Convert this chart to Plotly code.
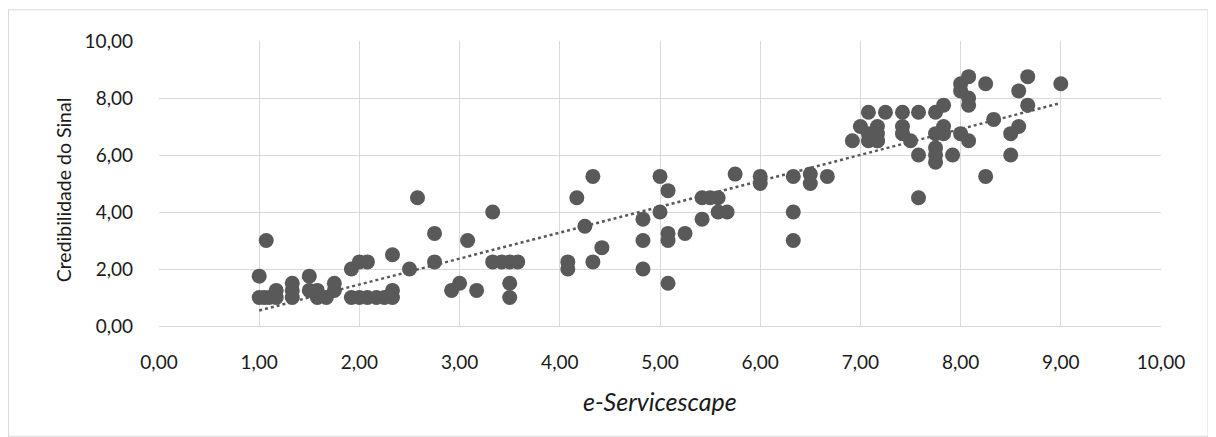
import numpy as np
import plotly.graph_objects as go

# e-Servicescape (x) and Credibilidade do Sinal (y)
x_vals = [1.00, 1.00, 1.07, 1.05, 1.10, 1.17, 1.17, 1.33, 1.33, 1.33,
          1.50, 1.50, 1.58, 1.58, 1.67, 1.75, 1.75, 1.92, 1.92, 2.00,
          2.00, 2.08, 2.08, 2.17, 2.25, 2.33, 2.33, 2.33, 2.50, 2.58,
          2.75, 2.75, 2.92, 3.00, 3.08, 3.17, 3.33, 3.33, 3.42, 3.50,
          3.50, 3.50, 3.58, 4.08, 4.08, 4.17, 4.25, 4.33, 4.33, 4.42,
          4.83, 4.83, 4.83, 5.00, 5.00, 5.08, 5.08, 5.08, 5.08, 5.25,
          5.42, 5.42, 5.50, 5.58, 5.58, 5.67, 5.75, 6.00, 6.00, 6.33,
          6.33, 6.33, 6.50, 6.50, 6.67, 6.92, 7.00, 7.08, 7.08, 7.17,
          7.17, 7.17, 7.25, 7.42, 7.42, 7.42, 7.50, 7.58, 7.58, 7.58,
          7.75, 7.75, 7.75, 7.75, 7.75, 7.83, 7.83, 7.83, 7.92, 8.00,
          8.00, 8.00, 8.08, 8.08, 8.08, 8.08, 8.25, 8.25, 8.33, 8.50,
          8.50, 8.58, 8.58, 8.67, 8.67, 9.00, 7.08, 7.17]
y_vals = [1.75, 1.00, 3.00, 1.00, 1.00, 1.25, 1.00, 1.00, 1.25, 1.50,
          1.75, 1.25, 1.00, 1.25, 1.00, 1.25, 1.50, 1.00, 2.00, 2.25,
          1.00, 1.00, 2.25, 1.00, 1.00, 1.00, 1.25, 2.50, 2.00, 4.50,
          3.25, 2.25, 1.25, 1.50, 3.00, 1.25, 4.00, 2.25, 2.25, 2.25,
          1.50, 1.00, 2.25, 2.25, 2.00, 4.50, 3.50, 5.25, 2.25, 2.75,
          3.75, 3.00, 2.00, 5.25, 4.00, 4.75, 3.25, 3.00, 1.50, 3.25,
          4.50, 3.75, 4.50, 4.50, 4.00, 4.00, 5.33, 5.25, 5.00, 5.25,
          4.00, 3.00, 5.33, 5.00, 5.25, 6.50, 7.00, 6.50, 7.50, 7.00,
          6.75, 6.50, 7.50, 7.50, 7.00, 6.75, 6.50, 7.50, 6.00, 4.50,
          7.50, 6.75, 6.25, 6.00, 5.75, 7.75, 7.00, 6.75, 6.00, 8.50,
          8.25, 6.75, 8.75, 8.00, 7.75, 6.50, 8.50, 5.25, 7.25, 6.75,
          6.00, 8.25, 7.00, 8.75, 7.75, 8.50, 6.75, 6.50]

tick_vals = [0, 1, 2, 3, 4, 5, 6, 7, 8, 9, 10]
y_tick_vals = [0, 2, 4, 6, 8, 10]
x_title = "e-Servicescape"
y_title = "Credibilidade do Sinal"

xa = np.array(x_vals)
ya = np.array(y_vals)
slope, intercept = np.polyfit(xa, ya, 1)
tx = np.array([xa.min(), xa.max()])
ty = slope * tx + intercept

OFF = 8  # page body margin
W, H = 1216 - OFF, 437 - OFF
# target plot area in screen px
PX0, PX1, PY0, PY1 = 159, 1161, 40.7, 325.7
L = PX0 - OFF
R = W - (PX1 - OFF)
T = PY0 - OFF
B = H - (PY1 - OFF)
PW = PX1 - PX0
PH = PY1 - PY0


def px(sx):
    return (sx - PX0) / PW


def py(sy):
    return (PY1 - sy) / PH


fig = go.Figure()
fig.add_trace(go.Scatter(x=x_vals, y=y_vals, mode="markers",
                         marker=dict(size=15, color="#595959"),
                         showlegend=False, hoverinfo="x+y"))
fig.add_trace(go.Scatter(x=tx, y=ty, mode="lines",
                         line=dict(color="#595959", width=2.5, dash="dot"),
                         showlegend=False, hoverinfo="skip"))

font_family = "Lato, 'Open Sans', sans-serif"
tick_font = dict(size=19, family=font_family, color="#1a1a1a")
fig.update_layout(
    width=W, height=H,
    margin=dict(l=L, r=R, t=T, b=B, pad=0, autoexpand=False),
    paper_bgcolor="white", plot_bgcolor="white",
    separators=",.",
    font=dict(family=font_family, size=19, color="#1a1a1a"),
    xaxis=dict(range=[0, 10], tickvals=tick_vals, tickformat=".2f",
               showgrid=True, gridcolor="#d9d9d9", gridwidth=1.3,
               zeroline=False, showline=True, linecolor="#d9d9d9", linewidth=1.3,
               ticks="", ticklabelstandoff=19, tickfont=tick_font),
    yaxis=dict(range=[0, 10], tickvals=y_tick_vals, tickformat=".2f",
               showgrid=True, gridcolor="#d9d9d9", gridwidth=1.3,
               zeroline=False, showline=False,
               ticks="", ticklabelstandoff=25, tickfont=tick_font),
    annotations=[
        dict(text="<i>" + x_title + "</i>", xref="paper", yref="paper",
             x=px(659.5), y=py(401), xanchor="center", yanchor="middle",
             showarrow=False,
             font=dict(size=25, family=font_family, color="#1a1a1a")),
        dict(text=y_title, xref="paper", yref="paper",
             x=px(63), y=py(190), xanchor="center", yanchor="middle",
             showarrow=False, textangle=-90,
             font=dict(size=19.5, family=font_family, color="#1a1a1a")),
    ],
    shapes=[
        dict(type="rect", xref="paper", yref="paper",
             x0=px(8.5), x1=px(1208), y0=py(436), y1=py(9.5),
             line=dict(color="#d9d9d9", width=1), layer="below"),
    ],
)

fig.write_html("out.html")
